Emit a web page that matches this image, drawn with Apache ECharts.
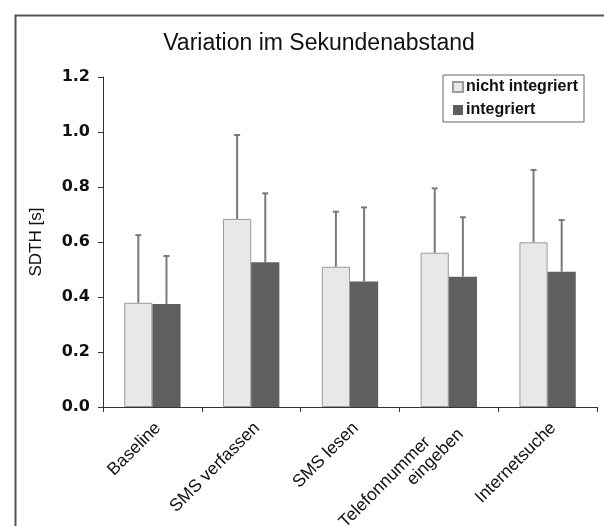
<!DOCTYPE html>
<html><head><meta charset="utf-8">
<script src="https://cdn.jsdelivr.net/npm/echarts@6/dist/echarts.min.js"></script>
<style>html,body{margin:0;padding:0;background:#fff}#c{width:604px;height:526px}</style>
</head><body><div id="c"></div>
<script>
var categories = ['Baseline', 'SMS verfassen', 'SMS lesen', 'Telefonnummer\neingeben', 'Internetsuche'];
var seriesNames = ['nicht integriert', 'integriert'];
var meanNicht = [0.379, 0.684, 0.510, 0.561, 0.599];
var errTopNicht = [0.625, 0.989, 0.710, 0.795, 0.862];
var meanInt = [0.375, 0.526, 0.456, 0.474, 0.492];
var errTopInt = [0.549, 0.777, 0.726, 0.690, 0.680];
var yTicks = [0, 0.2, 0.4, 0.6, 0.8, 1.0, 1.2];

var FONT = '"Liberation Sans", Arial, sans-serif';
var CAT_GAP = 0.43;

function errSeries(means, tops, side) {
  var data = means.map(function (m, i) { return [i, m, tops[i]]; });
  return {
    type: 'custom',
    silent: true,
    z: 5,
    data: data,
    renderItem: function (params, api) {
      var band = api.size([1, 0])[0];
      var bw = band * (1 - CAT_GAP) / 2;
      var p0 = api.coord([api.value(0), api.value(1)]);
      var p1 = api.coord([api.value(0), api.value(2)]);
      var x = p0[0] + side * bw / 2;
      var style = { stroke: '#7a7a7a', lineWidth: 2 };
      return {
        type: 'group',
        children: [
          { type: 'line', shape: { x1: x, y1: p0[1], x2: x, y2: p1[1] }, style: style },
          { type: 'line', shape: { x1: x - 3, y1: p1[1], x2: x + 3, y2: p1[1] }, style: style }
        ]
      };
    }
  };
}

var chart = echarts.init(document.getElementById('c'), null, { renderer: 'canvas' });
chart.setOption({
  animation: false,
  backgroundColor: '#fff',
  textStyle: { fontFamily: FONT },
  graphic: [{
    type: 'rect', left: 13, top: 13, z: -1,
    shape: { x: 0, y: 0, width: 620, height: 540 },
    style: { fill: 'none', stroke: '#555', lineWidth: 2 }
  }],
  title: {
    text: 'Variation im Sekundenabstand',
    left: 314, top: 27, textAlign: 'center',
    textStyle: { fontFamily: FONT, fontSize: 23, fontWeight: 'normal', color: '#111' }
  },
  legend: {
    orient: 'vertical',
    left: 443, top: 75,
    padding: [4, 6, 4, 9],
    itemGap: 7,
    borderColor: '#666', borderWidth: 1,
    icon: 'rect', itemWidth: 10, itemHeight: 10,
    textStyle: { fontFamily: FONT, fontSize: 16, fontWeight: 'bold', color: '#111', padding: [0, 0, 0, -2] },
    data: seriesNames
  },
  grid: { left: 103, right: 7, top: 77, bottom: 119, containLabel: false, outerBoundsMode: 'none' },
  xAxis: {
    type: 'category',
    data: categories,
    axisLine: { lineStyle: { color: '#333', width: 1 } },
    axisTick: { show: true, length: 5, lineStyle: { color: '#333' } },
    axisLabel: {
      rotate: 45, margin: 24, fontFamily: FONT, fontSize: 17.5, color: '#111', lineHeight: 18,
      padding: [0, -8, 0, 0],
      formatter: function (v) { return v.replace('\n', '      \n'); }
    }
  },
  yAxis: {
    type: 'value',
    min: 0, max: 1.2, interval: 0.2,
    name: 'SDTH [s]',
    nameLocation: 'middle',
    nameGap: 58,
    nameTextStyle: { fontFamily: FONT, fontSize: 17, color: '#111' },
    axisLine: { show: true, lineStyle: { color: '#333', width: 1 } },
    axisTick: { show: true, length: 5, lineStyle: { color: '#333' } },
    splitLine: { show: false },
    axisLabel: {
      margin: 13, fontFamily: '"DejaVu Sans", sans-serif', fontSize: 16, fontWeight: 'bold', color: '#111',
      formatter: function (v) { return v.toFixed(1); }
    }
  },
  series: [
    {
      name: seriesNames[0], type: 'bar', data: meanNicht,
      barGap: '0%', barCategoryGap: (CAT_GAP * 100) + '%',
      itemStyle: { color: '#e8e8e8', borderColor: '#9a9a9a', borderWidth: 1 }
    },
    {
      name: seriesNames[1], type: 'bar', data: meanInt,
      barGap: '0%', barCategoryGap: (CAT_GAP * 100) + '%',
      itemStyle: { color: '#5f5f5f', borderColor: '#555', borderWidth: 0 }
    },
    errSeries(meanNicht, errTopNicht, -1),
    errSeries(meanInt, errTopInt, 1)
  ]
});
</script></body></html>
